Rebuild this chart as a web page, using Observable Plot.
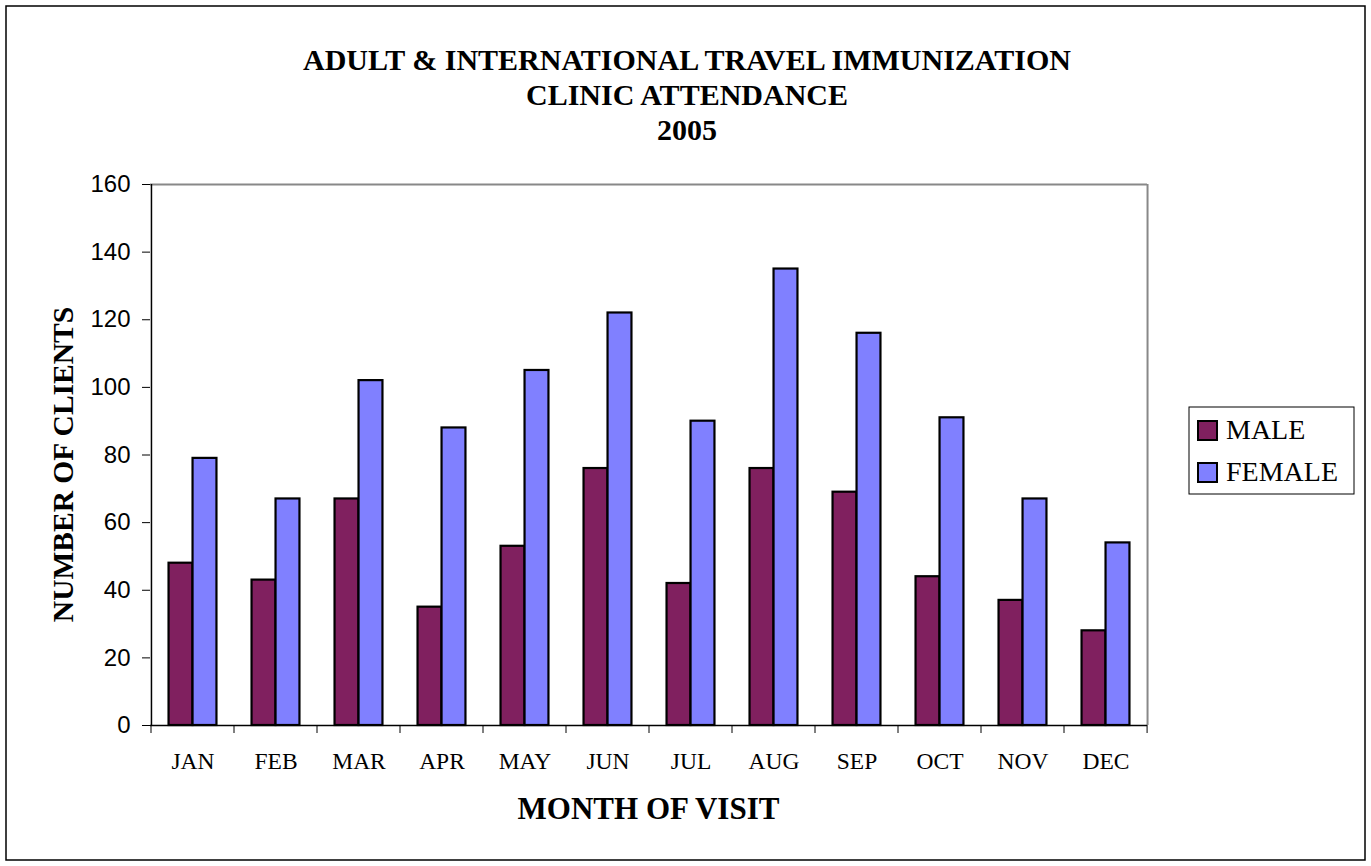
<!DOCTYPE html>
<html>
<head>
<meta charset="utf-8">
<script src="https://cdn.jsdelivr.net/npm/d3@7"></script>
<script src="https://cdn.jsdelivr.net/npm/@observablehq/plot@0.6"></script>
<style>
  html, body { margin: 0; padding: 0; background: #fff; }
  #chart { width: 1371px; height: 866px; }
</style>
</head>
<body>
<div id="chart"></div>
<script>
const months = ["JAN","FEB","MAR","APR","MAY","JUN","JUL","AUG","SEP","OCT","NOV","DEC"];
const maleValues = [48, 43, 67, 35, 53, 76, 42, 76, 69, 44, 37, 28];
const femaleValues = [79, 67, 102, 88, 105, 122, 90, 135, 116, 91, 67, 54];
const seriesNames = ["MALE", "FEMALE"];
const seriesColors = ["#80205F", "#8080FF"];
const yTicks = [0, 20, 40, 60, 80, 100, 120, 140, 160];
const titleLines = ["ADULT & INTERNATIONAL TRAVEL IMMUNIZATION", "CLINIC ATTENDANCE", "2005"];
const xTitle = "MONTH OF VISIT";
const yTitle = "NUMBER OF CLIENTS";

const male = months.map((m, i) => ({month: m, value: maleValues[i]}));
const female = months.map((m, i) => ({month: m, value: femaleValues[i]}));

const W = 1371, H = 866;
const mL = 150, mT = 184, mR = 224, mB = 141;
const bandW = (W - mL - mR) / months.length;
const barW = 24;
const sidePad = (bandW - 2 * barW) / 2;
const serif = "'Times New Roman', 'Liberation Serif', serif";
const sans = "Arial, 'Liberation Sans', sans-serif";

const plot = Plot.plot({
  width: W,
  height: H,
  marginLeft: mL,
  marginTop: mT,
  marginRight: mR,
  marginBottom: mB,
  style: {background: "transparent", overflow: "visible"},
  x: {type: "band", domain: months, padding: 0, label: null},
  y: {domain: [0, 160], label: null},
  marks: [
    Plot.barY(male, {x: "month", y: "value", fill: seriesColors[0], stroke: "#000", strokeWidth: 2.2,
      insetLeft: sidePad, insetRight: sidePad + barW}),
    Plot.barY(female, {x: "month", y: "value", fill: seriesColors[1], stroke: "#000", strokeWidth: 2.2,
      insetLeft: sidePad + barW, insetRight: sidePad}),
    Plot.ruleY([160], {stroke: "#888", strokeWidth: 2}),
    Plot.ruleX([months[months.length - 1]], {stroke: "#888", strokeWidth: 2, dx: bandW / 2, y1: 0, y2: 160}),
    Plot.axisY({ticks: yTicks, tickSize: 8, tickPadding: 12, fontSize: 24, fontFamily: sans, label: null, stroke: "#000", color: "#000"}),
    Plot.axisX({tickSize: 0, tickPadding: 27, fontSize: 23.5, fontFamily: serif, label: null, color: "#000"}),
    Plot.ruleY([0], {stroke: "#000", strokeWidth: 1.5}),
    Plot.ruleX([months[0]], {dx: -bandW / 2, y1: 0, y2: 160, stroke: "#000", strokeWidth: 1.5})
  ]
});

document.getElementById("chart").appendChild(plot);
const svg = d3.select(plot);

// category boundary ticks (between months), positioned with the library's x scale
const xs = plot.scale("x");
const ys = plot.scale("y");
const boundaries = months.map(m => xs.apply(m)).concat([xs.apply(months[months.length - 1]) + bandW]);
const y0 = ys.apply(0);
svg.append("g").selectAll("line").data(boundaries).join("line")
  .attr("x1", d => d).attr("x2", d => d)
  .attr("y1", y0).attr("y2", y0 + 8)
  .attr("stroke", "#000").attr("stroke-width", 1);

// outer border
svg.append("rect").attr("x", 6).attr("y", 6).attr("width", W - 12).attr("height", H - 12)
  .attr("fill", "none").attr("stroke", "#000").attr("stroke-width", 1.5);

// title
svg.append("g").selectAll("text").data(titleLines).join("text")
  .attr("x", 687).attr("y", (d, i) => 70 + i * 35)
  .attr("text-anchor", "middle")
  .attr("font-family", serif).attr("font-weight", "bold").attr("font-size", 30)
  .attr("fill", "#000").text(d => d);

// x title
svg.append("text").attr("x", 648.5).attr("y", 819).attr("text-anchor", "middle")
  .attr("font-family", serif).attr("font-weight", "bold").attr("font-size", 31)
  .attr("fill", "#000").text(xTitle);

// y title
svg.append("text").attr("transform", "translate(73,464.5) rotate(-90)").attr("text-anchor", "middle")
  .attr("font-family", serif).attr("font-weight", "bold").attr("font-size", 29.5)
  .attr("fill", "#000").text(yTitle);

// legend
const lg = svg.append("g");
lg.append("rect").attr("x", 1189).attr("y", 407).attr("width", 165).attr("height", 87)
  .attr("fill", "#fff").attr("stroke", "#000").attr("stroke-width", 1);
const items = lg.selectAll("g.item").data(seriesNames).join("g")
  .attr("transform", (d, i) => `translate(1198, ${421 + i * 42})`);
items.append("rect").attr("x", 0).attr("y", 0).attr("width", 19).attr("height", 19)
  .attr("fill", (d, i) => seriesColors[i]).attr("stroke", "#000").attr("stroke-width", 2);
items.append("text").attr("x", 28).attr("y", 18).attr("text-anchor", "start")
  .attr("font-family", serif).attr("font-size", 28).attr("fill", "#000").text(d => d);
</script>
</body>
</html>
